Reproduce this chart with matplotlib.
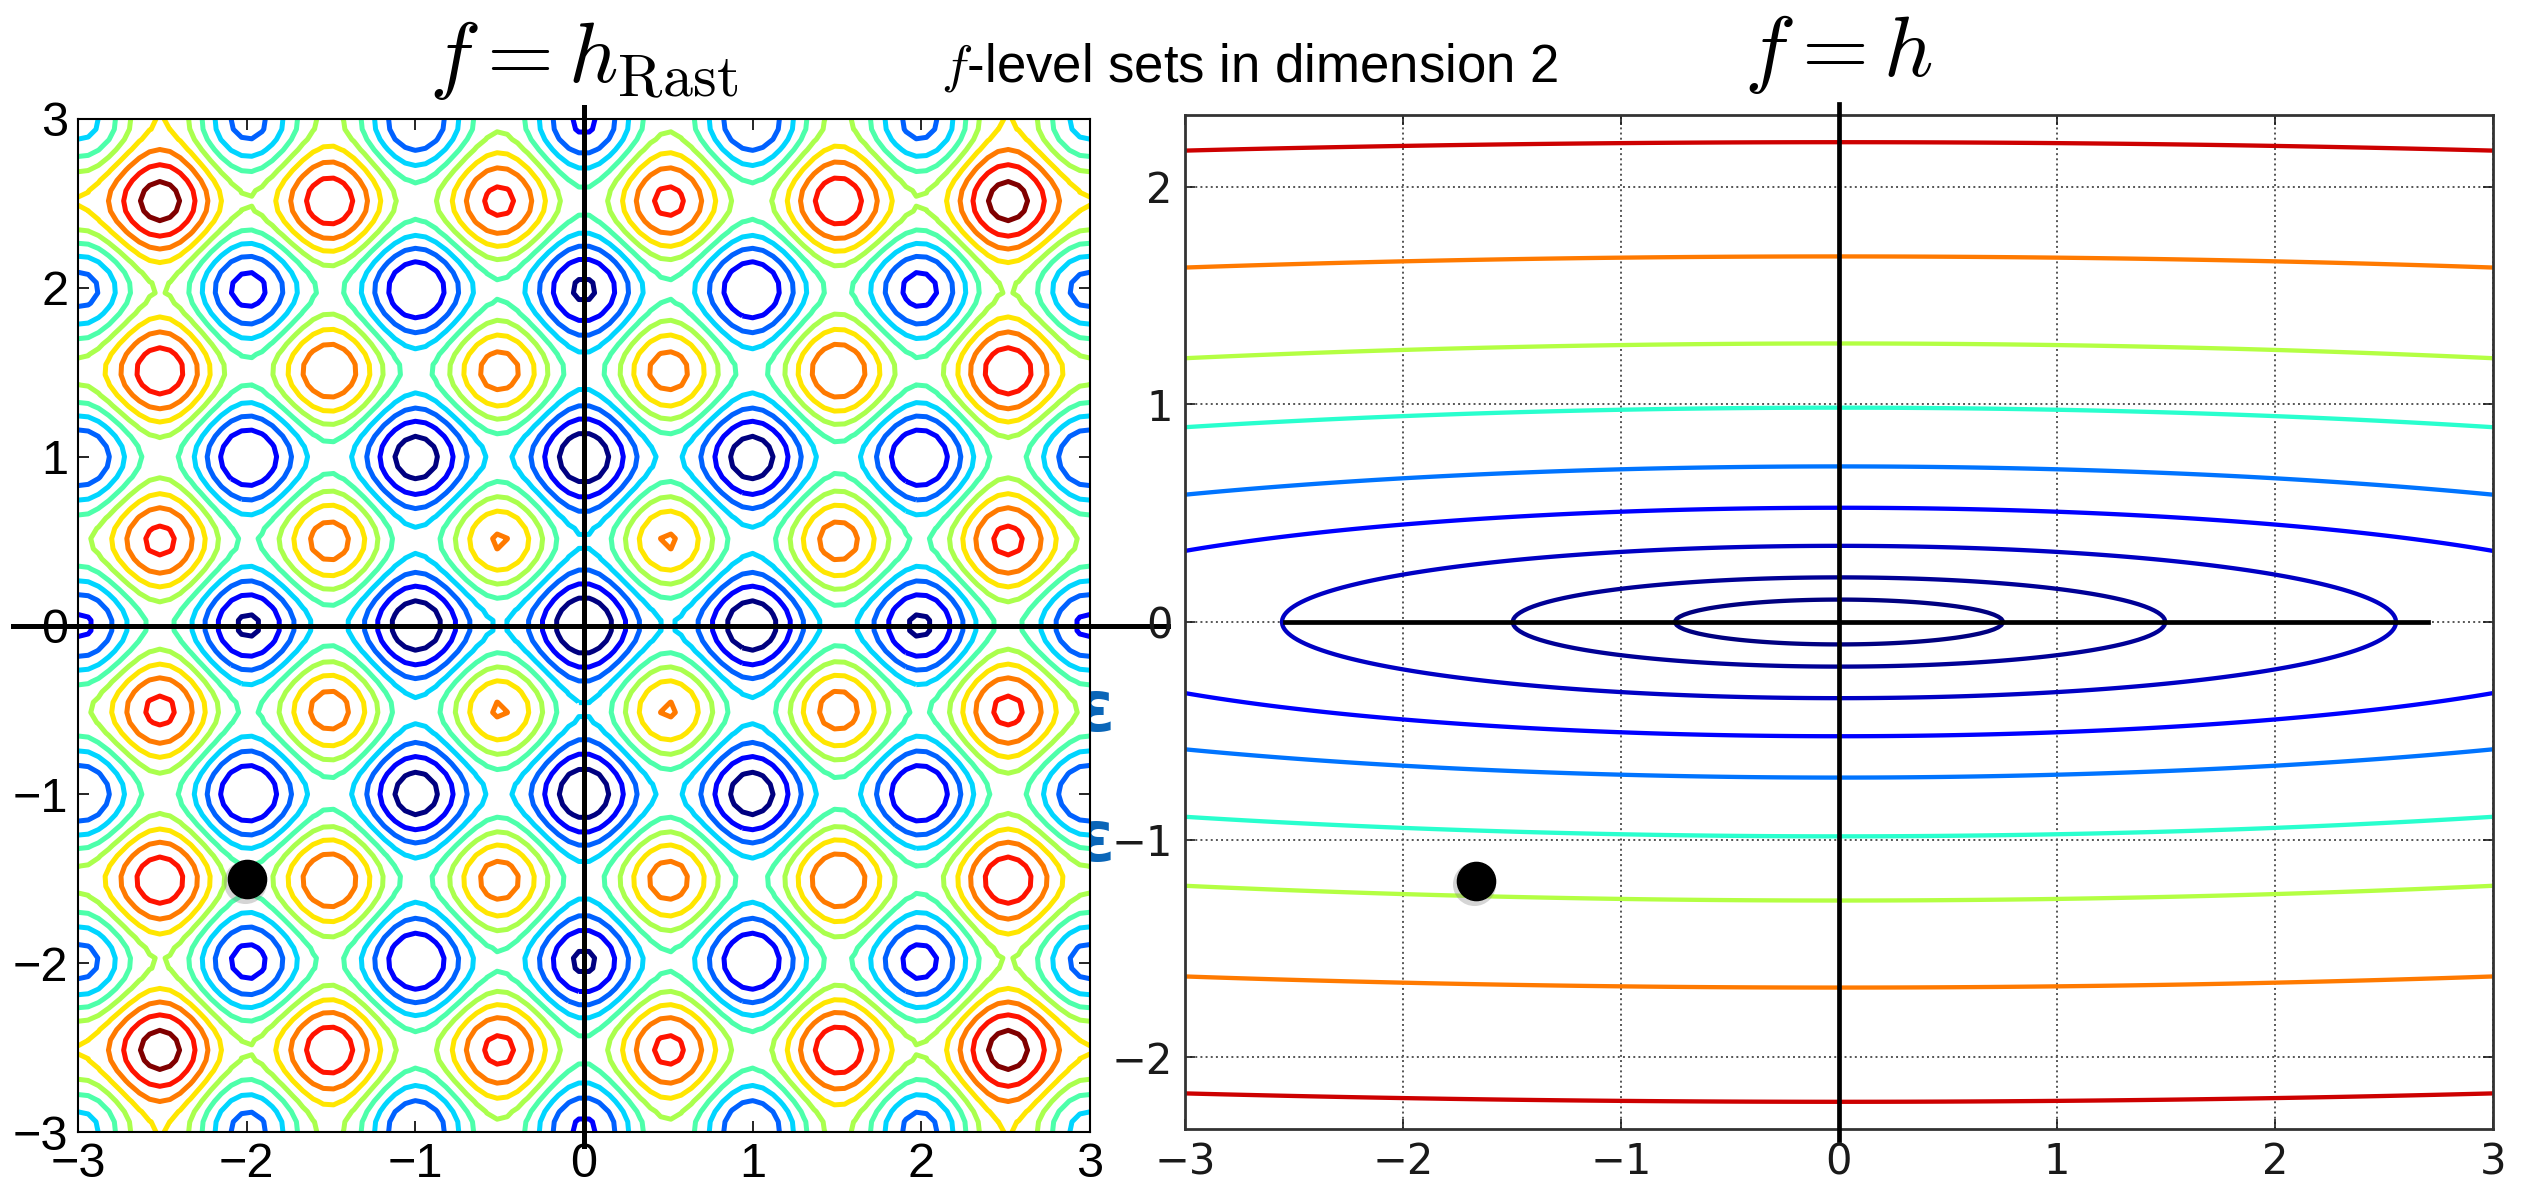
import numpy as np
import matplotlib.pyplot as plt
import matplotlib.transforms as mtransforms

plt.rcParams['mathtext.fontset'] = 'cm'

# left panel: Rastrigin level values drawn
rast_levels = [5, 10, 15, 20, 25, 30, 35, 40, 45, 50]
left_ticks = [-3, -2, -1, 0, 1, 2, 3]
left_dot = (-2.0, -1.5)

# right panel: level sets given by their half height on the y axis
h_levels = [0.103, 0.205, 0.35, 0.525, 0.715, 0.985, 1.28, 1.68, 2.205]
h_color_pos = [0.0, 0.02, 0.06, 0.12, 0.24, 0.40, 0.57, 0.78, 0.93]
h_axis_ratio = 7.3
right_xticks = [-3, -2, -1, 0, 1, 2, 3]
right_yticks = [-2, -1, 0, 1, 2]
right_dot = (-1.665, -1.19)

W, H = 2528, 1188
fig = plt.figure(figsize=(W / 100, H / 100), dpi=100)

def box(x0, y0, x1, y1):
    # pixel box (top-left origin) -> figure fraction
    return [x0 / W, 1 - y1 / H, (x1 - x0) / W, (y1 - y0) / H]

narrow = ['Liberation Sans Narrow', 'Liberation Sans']

def dot(ax, xy):
    # black marker with a soft shadow
    sh = mtransforms.offset_copy(ax.transData, fig=fig, x=-1.5, y=-2.5, units='points')
    ax.plot(*xy, 'o', color='#888888', alpha=0.35, ms=31, mew=0, transform=sh, zorder=6)
    ax.plot(*xy, 'o', color='k', ms=27.5, zorder=7)

# ---------------- left: Rastrigin ----------------
ax1 = fig.add_axes(box(78, 119, 1090, 1132))
g = np.linspace(-3, 3, 100)
X, Y = np.meshgrid(g, g)
Z = 20 + X**2 - 10 * np.cos(2 * np.pi * X) + Y**2 - 10 * np.cos(2 * np.pi * Y)
ax1.contour(X, Y, Z, levels=rast_levels, cmap='jet', linewidths=3.6)
ax1.plot([-3.385, 3.46], [0, 0], color='k', lw=3.6, clip_on=False, zorder=5)
ax1.plot([0, 0], [-3.08, 3.07], color='k', lw=3.6, clip_on=False, zorder=5)
dot(ax1, left_dot)
ax1.set_xlim(-3, 3)
ax1.set_ylim(-3, 3)
ax1.set_xticks(left_ticks)
ax1.set_yticks(left_ticks)
ax1.tick_params(direction='in', length=8, width=1.2, top=True, right=True,
                labelsize=35, pad=7)
for lab in ax1.get_xticklabels() + ax1.get_yticklabels():
    lab.set_family(narrow)
for s in ax1.spines.values():
    s.set_linewidth(1.5)

# ---------------- right: ill-conditioned quadratic ----------------
ax2 = fig.add_axes(box(1185, 115, 2493, 1129))
gx = np.linspace(-3, 3, 500)
gy = np.linspace(-2.4, 2.4, 500)
X2, Y2 = np.meshgrid(gx, gy)
R = np.sqrt((X2 / h_axis_ratio)**2 + Y2**2)
cmap = plt.get_cmap('jet')
ax2.contour(X2, Y2, R, levels=h_levels, colors=[cmap(p) for p in h_color_pos],
            linewidths=3.1)
ax2.plot([-2.54, 2.70], [0, 0], color='k', lw=3.4, zorder=5)
ax2.plot([0, 0], [-2.38, 2.38], color='k', lw=3.4, clip_on=False, zorder=5)
dot(ax2, right_dot)
ax2.set_xlim(-3, 3)
ax2.set_ylim(-2.33, 2.33)
ax2.set_xticks(right_xticks)
ax2.set_yticks(right_yticks)
ax2.grid(True, color='#555555', linestyle=':', linewidth=1.4)
ax2.tick_params(direction='in', length=7, width=1.2, top=True, right=True,
                labelsize=30, pad=9, colors='#1a1a1a')
for s in ax2.spines.values():
    s.set_linewidth(2)
    s.set_color('#333333')

# ---------------- titles ----------------
fig.text(584 / W, 1 - 60 / H, r'$f = h_{\mathrm{Rast}}$', fontsize=62,
         ha='center', va='center')
fig.text(1250 / W, 1 - 68 / H, r'$f$-level sets in dimension 2', fontsize=38,
         ha='center', va='center', family=narrow)
fig.text(1838 / W, 1 - 54 / H, r'$f = h$', fontsize=62, ha='center', va='center')

# partly hidden blue marks between the panels
for yy in (711, 842):
    fig.text(1074 / W, 1 - yy / H, 'ε', fontsize=52, color='#0a66b8',
             fontweight='bold', ha='left', va='center', zorder=-1)

fig.savefig('out.png', dpi=100)
